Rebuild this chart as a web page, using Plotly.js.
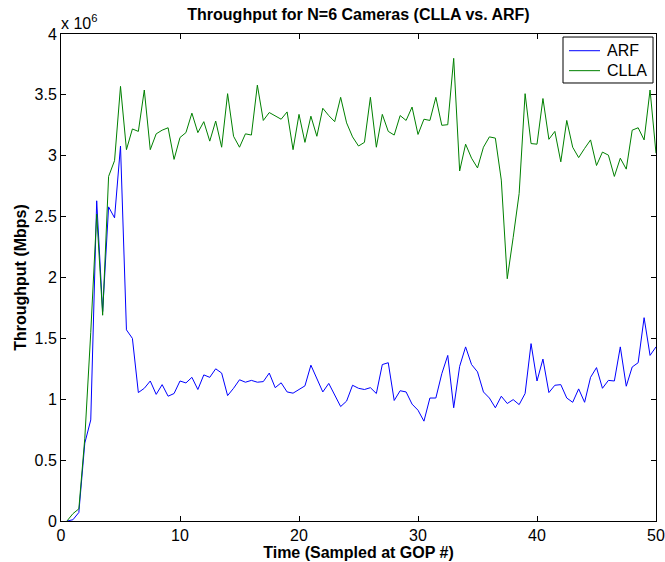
<!DOCTYPE html>
<html>
<head>
<meta charset="utf-8">
<script src="https://cdn.plot.ly/plotly-3.0.1.min.js"></script>
<style>html,body{margin:0;padding:0;background:#fff;}#chart{width:665px;height:562px;}</style>
</head>
<body>
<div id="chart"></div>
<script>
// GOP sample index (x)
const gop = [0.5,1,1.5,2,2.5,3,3.5,4,4.5,5,5.5,6,6.5,7,7.5,8,8.5,9,9.5,10,
  10.5,11,11.5,12,12.5,13,13.5,14,14.5,15,15.5,16,16.5,17,17.5,18,18.5,19,19.5,20,
  20.5,21,21.5,22,22.5,23,23.5,24,24.5,25,25.5,26,26.5,27,27.5,28,28.5,29,29.5,30,
  30.5,31,31.5,32,32.5,33,33.5,34,34.5,35,35.5,36,36.5,37,37.5,38,38.5,39,39.5,40,
  40.5,41,41.5,42,42.5,43,43.5,44,44.5,45,45.5,46,46.5,47,47.5,48,48.5,49,49.5,50];

// Throughput in units of 10^6
const arf = [0,0.01,0.07,0.64,0.83,2.63,1.72,2.58,2.49,3.08,1.57,1.50,1.055,1.09,1.15,1.04,1.12,1.025,1.047,1.15,
  1.134,1.18,1.08,1.20,1.18,1.25,1.215,1.03,1.09,1.16,1.14,1.155,1.14,1.145,1.215,1.095,1.135,1.06,1.05,1.08,
  1.11,1.28,1.17,1.06,1.13,1.03,0.94,0.985,1.115,1.09,1.08,1.095,1.047,1.285,1.30,0.99,1.07,1.06,0.96,0.91,
  0.82,1.01,1.01,1.21,1.36,0.93,1.27,1.43,1.285,1.225,1.06,1.01,0.93,1.025,0.965,0.997,0.956,1.047,1.457,1.15,
  1.33,1.055,1.115,1.12,1.01,0.975,1.085,0.975,1.18,1.26,1.09,1.155,1.15,1.43,1.107,1.265,1.30,1.67,1.36,1.43];

const clla = [0,0.06,0.10,0.68,1.55,2.52,1.69,2.83,2.96,3.57,3.05,3.22,3.20,3.54,3.05,3.18,3.21,3.23,2.97,3.15,
  3.19,3.35,3.19,3.28,3.12,3.285,3.07,3.51,3.16,3.07,3.18,3.17,3.58,3.29,3.355,3.325,3.30,3.36,3.05,3.34,
  3.11,3.325,3.16,3.39,3.33,3.28,3.48,3.27,3.155,3.08,3.11,3.48,3.07,3.34,3.20,3.17,3.33,3.29,3.40,3.175,
  3.30,3.29,3.48,3.25,3.255,3.80,2.875,3.095,2.98,2.90,3.07,3.155,3.145,2.80,1.99,2.33,2.69,3.51,3.10,3.095,
  3.47,3.135,3.20,2.95,3.29,3.07,2.985,3.06,3.13,2.92,3.03,3.005,2.83,2.98,2.89,3.21,3.23,3.13,3.54,3.02];

const seriesNames = ['ARF', 'CLLA'];
const seriesColors = ['#0000ff', '#008000'];
const xTicks = [0,10,20,30,40,50];
const yTicks = [0,0.5,1,1.5,2,2.5,3,3.5,4];

const FONT = 'Liberation Sans, Arial, Helvetica, sans-serif';

const traces = [arf, clla].map((ys, i) => ({
  x: gop, y: ys, name: seriesNames[i], type: 'scatter', mode: 'lines',
  line: {color: seriesColors[i], width: 1}
}));

const axisCommon = {
  showline: true, linecolor: '#000', linewidth: 1, mirror: 'ticks',
  ticks: 'inside', ticklen: 5, tickwidth: 1, tickcolor: '#000',
  showgrid: false, zeroline: false,
  tickfont: {family: FONT, size: 16, color: '#000'}
};

// MATLAB-style legend box (drawn with shapes + text so it is compact)
const lg = {x0: 0.8437, x1: 0.9950, y0: 0.8994, y1: 0.9938,
            lx0: 0.8538, lx1: 0.9059, tx: 0.9150, rows: [0.9657, 0.9247]};
const shapes = [{type: 'rect', xref: 'paper', yref: 'paper', layer: 'above',
  x0: lg.x0, x1: lg.x1, y0: lg.y0, y1: lg.y1,
  line: {color: '#000', width: 1}, fillcolor: '#fff'}];
const annotations = [{
  text: 'x 10<sup>6</sup>', xref: 'paper', yref: 'paper', x: 0, y: 1,
  xanchor: 'left', yanchor: 'bottom', showarrow: false, yshift: 0, xshift: -2,
  font: {family: FONT, size: 16, color: '#000'}
}];
seriesNames.forEach((n, i) => {
  shapes.push({type: 'line', xref: 'paper', yref: 'paper', layer: 'above',
    x0: lg.lx0, x1: lg.lx1, y0: lg.rows[i], y1: lg.rows[i],
    line: {color: seriesColors[i], width: 1}});
  annotations.push({text: n, xref: 'paper', yref: 'paper', x: lg.tx, y: lg.rows[i],
    xanchor: 'left', yanchor: 'middle', showarrow: false,
    font: {family: FONT, size: 16, color: '#000'}});
});

const layout = {
  width: 665, height: 562,
  margin: {l: 61, r: 9, t: 34, b: 41},
  paper_bgcolor: '#fff', plot_bgcolor: '#fff',
  showlegend: false,
  title: {text: '<b>Throughput for N=6 Cameras (CLLA vs. ARF)</b>',
          font: {family: FONT, size: 16, color: '#000'},
          xref: 'paper', x: 0.5, xanchor: 'center', y: 0.975, yanchor: 'middle'},
  xaxis: Object.assign({}, axisCommon, {
    range: [0, 50], tickvals: xTicks, ticktext: xTicks.map(String),
    title: {text: '<b>Time (Sampled at GOP #)</b>', font: {family: FONT, size: 16, color: '#000'}, standoff: 0}
  }),
  yaxis: Object.assign({}, axisCommon, {
    range: [0, 4], tickvals: yTicks, ticktext: yTicks.map(String),
    title: {text: '<b>Throughput (Mbps)</b>', font: {family: FONT, size: 16, color: '#000'}, standoff: 3}
  }),
  shapes: shapes,
  annotations: annotations
};

Plotly.newPlot('chart', traces, layout, {displayModeBar: false, staticPlot: true});
</script>
</body>
</html>
